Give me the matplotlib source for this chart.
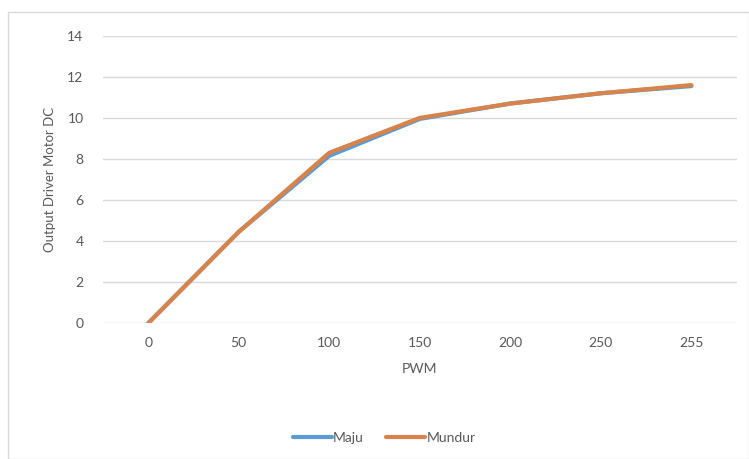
import matplotlib

matplotlib.use("Agg")

import matplotlib.pyplot as plt
from matplotlib.patches import Rectangle

pwm_labels = ["0", "50", "100", "150", "200", "250", "255"]
maju = [0.0, 4.45, 8.15, 9.95, 10.7, 11.2, 11.55]
mundur = [0.0, 4.45, 8.3, 10.0, 10.7, 11.2, 11.6]

plt.rcParams["font.family"] = ["Lato", "DejaVu Sans"]
text_color = "#595959"
grid_color = "#D9D9D9"

fig = plt.figure(figsize=(7.49, 4.59), dpi=100)
ax = fig.add_axes([0.1375, 0.296, 0.846, 0.626])

x = range(len(pwm_labels))
ax.plot(x, maju, color="#5B9BD5", linewidth=3.0, solid_capstyle="round", label="Maju", zorder=3)
ax.plot(x, mundur, color="#D8834A", linewidth=3.0, solid_capstyle="round", label="Mundur", zorder=4)

ax.set_xlim(-0.5, len(pwm_labels) - 0.5)
ax.set_ylim(0, 14)
ax.set_yticks(range(0, 15, 2))
ax.set_xticks(list(x))
ax.set_xticklabels(pwm_labels)
ax.grid(axis="y", color=grid_color, linewidth=1.0)
ax.set_axisbelow(True)
for side in ["top", "right", "left", "bottom"]:
    ax.spines[side].set_visible(False)
ax.tick_params(length=0, colors=text_color, labelsize=10)
ax.tick_params(axis="x", pad=10)
ax.tick_params(axis="y", pad=14)

ax.set_xlabel("PWM", color=text_color, fontsize=10, labelpad=10)
ax.set_ylabel("Output Driver Motor DC", color=text_color, fontsize=9.5, labelpad=8)

ax.legend(loc="center", bbox_to_anchor=(0.513, 0.045), bbox_transform=fig.transFigure,
          ncol=2, frameon=False, fontsize=10, handlelength=2.8, handletextpad=0.1,
          columnspacing=1.6, labelcolor=text_color)

fig.patches.append(Rectangle((0.011, 0.0), 0.989, 0.974, transform=fig.transFigure,
                             fill=False, edgecolor=grid_color, linewidth=1.0))

fig.savefig("out.png", dpi=100)
